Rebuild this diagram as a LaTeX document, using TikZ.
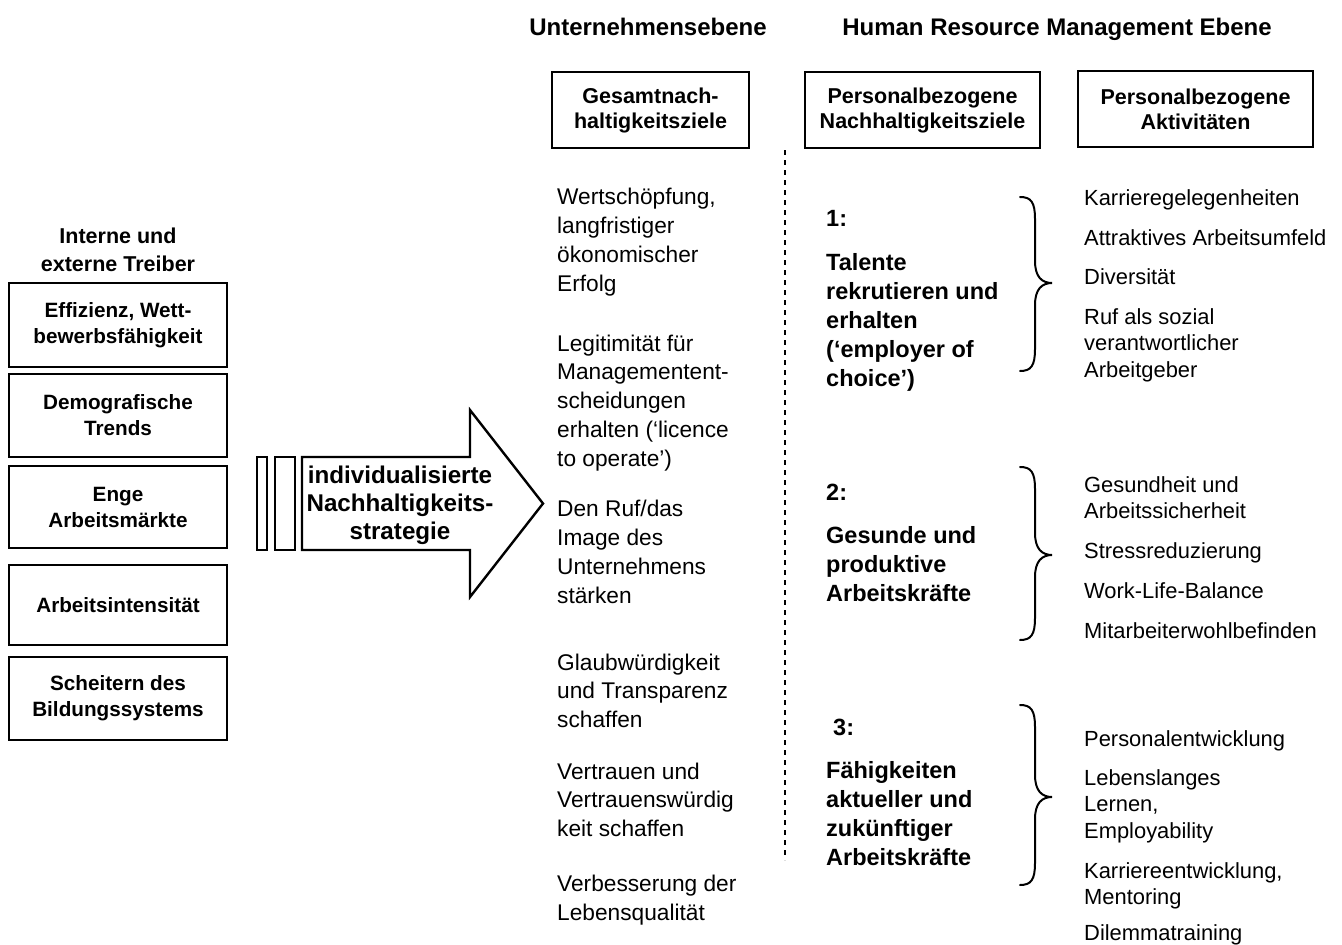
\documentclass[tikz,border=0pt]{standalone}
\usepackage{fontspec}
\setmainfont{Liberation Sans}
\newcommand{\mybrace}[4]{%
\draw[bracestyle] (#1,#2) .. controls (#1+11,#2) and (#1+15,#2+5) .. (#1+15,#2+22) -- (#1+15,#4-22) .. controls (#1+15,#4-6) and (#1+22,#4) .. (#1+32,#4) .. controls (#1+22,#4) and (#1+15,#4+6) .. (#1+15,#4+22) -- (#1+15,#3-22) .. controls (#1+15,#3-5) and (#1+11,#3) .. (#1,#3);}
\begin{document}
\begin{tikzpicture}[x=1pt,y=-1pt,
  drvbox/.style={draw, line width=2.2pt, font=\bfseries\fontsize{20.7}{26}\selectfont, align=center, minimum width=218pt, inner sep=0pt},
  topbox/.style={draw, line width=2pt, font=\bfseries\fontsize{21.5}{25}\selectfont, align=center, inner sep=0pt, minimum height=76pt},
  head/.style={font=\bfseries\fontsize{24}{28}\selectfont, inner sep=0pt, anchor=base},
  midtxt/.style={anchor=base west, align=left, inner sep=0pt, font=\fontsize{22.7}{28.7}\selectfont},
  goal/.style={anchor=base west, align=left, inner sep=0pt, font=\bfseries\fontsize{23.5}{29}\selectfont},
  act/.style={anchor=base west, align=left, inner sep=0pt, font=\fontsize{21.9}{26.5}\selectfont},
  bracestyle/.style={line width=2pt, line cap=round},
  arrowshape/.style={draw, line width=2.4pt, line join=miter}]
\useasboundingbox (0,0) rectangle (1342,945);

% headers
\node[head] (h1) at (648,35) {Unternehmensebene};
\node[head] (h2) at (1057,35) {Human Resource Management Ebene};

% left column
\node[align=center, inner sep=0pt, font=\bfseries\fontsize{21.5}{28}\selectfont] (lt) at (118,250) {Interne und\\externe Treiber};
\node[drvbox, minimum height=84pt] (d1) at (118,325) {Effizienz, Wett-\\bewerbsfähigkeit};
\node[drvbox, minimum height=83pt] (d2) at (118,415.5) {Demografische\\Trends};
\node[drvbox, minimum height=82pt] (d3) at (118,507) {Enge\\Arbeitsmärkte};
\node[drvbox, minimum height=80pt] (d4) at (118,605) {Arbeitsintensität};
\node[drvbox, minimum height=83pt] (d5) at (118,698.5) {Scheitern des\\Bildungssystems};

% arrow
\draw[arrowshape] (257,457) rectangle (267,550);
\draw[arrowshape] (275,457) rectangle (295,550);
\draw[arrowshape] (302,457) -- (470,457) -- (470,410) -- (543,503.5) -- (470,597) -- (470,550) -- (302,550) -- cycle;
\node[align=center, inner sep=0pt, font=\bfseries\fontsize{24.2}{28}\selectfont] (at) at (400,505) {individualisierte\\Nachhaltigkeits-\\strategie};

% top boxes
\node[topbox, minimum width=197pt] (t1) at (650.5,110) {Gesamtnach-\\haltigkeitsziele};
\node[topbox, minimum width=235pt] (t2) at (922.5,110) {Personalbezogene\\Nachhaltigkeitsziele};
\node[topbox, minimum width=235pt] (t3) at (1195.5,109) {Personalbezogene\\Aktivitäten};

% dashed divider
\coordinate (dv1) at (785,150);
\coordinate (dv2) at (785,860);
\draw[line width=1.2pt, dash pattern=on 5pt off 5pt] (dv1) -- (dv2);

% middle column (anchored at baseline of last line)
\node[midtxt] (m1) at (557,291) {Wertschöpfung,\\langfristiger\\ökonomischer\\Erfolg};
\node[midtxt] (m2) at (557,466) {Legitimität für\\Managementent-\\scheidungen\\erhalten (‘licence\\to operate’)};
\node[midtxt] (m3) at (557,603) {Den Ruf/das\\Image des\\Unternehmens\\stärken};
\node[midtxt] (m4) at (557,727.5) {Glaubwürdigkeit\\und Transparenz\\schaffen};
\node[midtxt] (m5) at (557,836.5) {Vertrauen und\\Vertrauenswürdig\\keit schaffen};
\node[midtxt] (m6) at (557,920.5) {Verbesserung der\\Lebensqualität};

% goals
\node[goal] (g1n) at (826,226) {1:};
\node[goal] (g1) at (826,386) {Talente\\rekrutieren und\\erhalten\\(‘employer of\\choice’)};
\node[goal] (g2n) at (826,500) {2:};
\node[goal] (g2) at (826,601) {Gesunde und\\produktive\\Arbeitskräfte};
\node[goal] (g3n) at (833,735) {3:};
\node[goal] (g3) at (826,865) {Fähigkeiten\\aktueller und\\zukünftiger\\Arbeitskräfte};

% braces
\mybrace{1020}{197}{371}{283}
\mybrace{1020}{467}{640}{555}
\mybrace{1020}{705}{885}{797}

% activities
\node[act] (a1) at (1084,205) {Karrieregelegenheiten};
\node[act] (a2) at (1084,245) {Attraktives Arbeitsumfeld};
\node[act] (a3) at (1084,284) {Diversität};
\node[act] (a4) at (1084,377) {Ruf als sozial\\verantwortlicher\\Arbeitgeber};
\node[act] (a5) at (1084,518.5) {Gesundheit und\\Arbeitssicherheit};
\node[act] (a6) at (1084,558) {Stressreduzierung};
\node[act] (a7) at (1084,598) {Work-Life-Balance};
\node[act] (a8) at (1084,638) {Mitarbeiterwohlbefinden};
\node[act] (a9) at (1084,746) {Personalentwicklung};
\node[act] (a10) at (1084,838) {Lebenslanges\\Lernen,\\Employability};
\node[act] (a11) at (1084,904.5) {Karriereentwicklung,\\Mentoring};
\node[act] (a12) at (1084,940) {Dilemmatraining};
\end{tikzpicture}
\end{document}
